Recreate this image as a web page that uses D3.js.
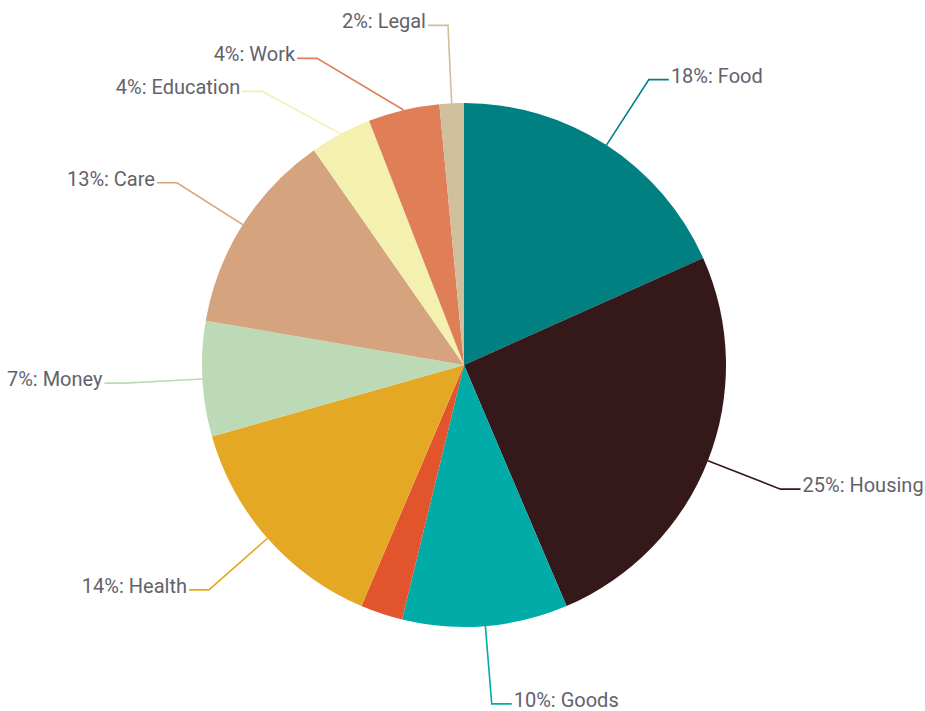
<!DOCTYPE html>
<meta charset="utf-8">
<style>
body {
  margin: 0;
  background: #fff;
}
.label {
  font-family: Roboto, "DejaVu Sans", sans-serif;
  font-size: 20px;
  fill: #63626b;
}
.leader {
  fill: none;
  stroke-width: 1.6px;
}
</style>
<svg width="925" height="711"></svg>

<script src="https://cdnjs.cloudflare.com/ajax/libs/d3/7.8.5/d3.min.js"></script>

<script>

var categories = ["Food", "Housing", "Goods", "", "Health", "Money", "Care", "Education", "Work", "Legal"];
var values = [18.3, 25.3, 10.2, 2.6, 14.2, 7.1, 12.6, 3.8, 4.4, 1.5];
var colors = ["#008080", "#35181a", "#00aba8", "#e2552c", "#e4a825", "#bddab6", "#d6a37f", "#f3f0b0", "#e07f57", "#cfbf9c"];

var svg = d3.select("svg"),
    cx = 464,
    cy = 365,
    radius = 262,
    elbowRadius = 340,
    g = svg.append("g").attr("transform", "translate(" + cx + "," + cy + ")");

var data = categories.map(function(c, i) {
  return {name: c, value: values[i], color: colors[i]};
});
var total = d3.sum(values);

var pie = d3.pie()
    .sort(null)
    .value(function(d) { return d.value; });
var arc = d3.arc()
    .innerRadius(0)
    .outerRadius(radius);

var arcs = pie(data);

g.selectAll(".slice")
    .data(arcs)
  .enter().append("path")
    .attr("class", "slice")
    .attr("d", arc)
    .attr("fill", function(d) { return d.data.color; });

// label positions: elbow on a bigger circle, pushed apart when too close
var labels = arcs.filter(function(d) { return d.data.name !== ""; }).map(function(d) {
  var a = (d.startAngle + d.endAngle) / 2;
  return {
    d: d,
    a: a,
    side: Math.sin(a) >= 0 ? 1 : -1,
    sx: radius * Math.sin(a),
    sy: -radius * Math.cos(a),
    y: -elbowRadius * Math.cos(a)
  };
});

[1, -1].forEach(function(side) {
  var list = labels.filter(function(l) { return l.side === side; })
      .sort(function(a, b) { return a.y - b.y; });
  var prev = -Infinity;
  list.forEach(function(l) {
    if (l.y < prev + 33) l.y = prev + 33;
    prev = l.y;
    l.x = side * Math.sqrt(Math.max(0, elbowRadius * elbowRadius - l.y * l.y));
  });
});

var lab = g.selectAll(".lab")
    .data(labels)
  .enter().append("g")
    .attr("class", "lab");

lab.append("polyline")
    .attr("class", "leader")
    .attr("stroke", function(l) { return l.d.data.color; })
    .attr("points", function(l) {
      return [[l.sx, l.sy], [l.x, l.y], [l.x + l.side * 20, l.y]].join(" ");
    });

lab.append("text")
    .attr("class", "label")
    .attr("x", function(l) { return l.x + l.side * 22; })
    .attr("y", function(l) { return l.y + 3; })
    .attr("text-anchor", function(l) { return l.side > 0 ? "start" : "end"; })
    .text(function(l) {
      return Math.round(l.d.data.value / total * 100) + "%: " + l.d.data.name;
    });

</script>
